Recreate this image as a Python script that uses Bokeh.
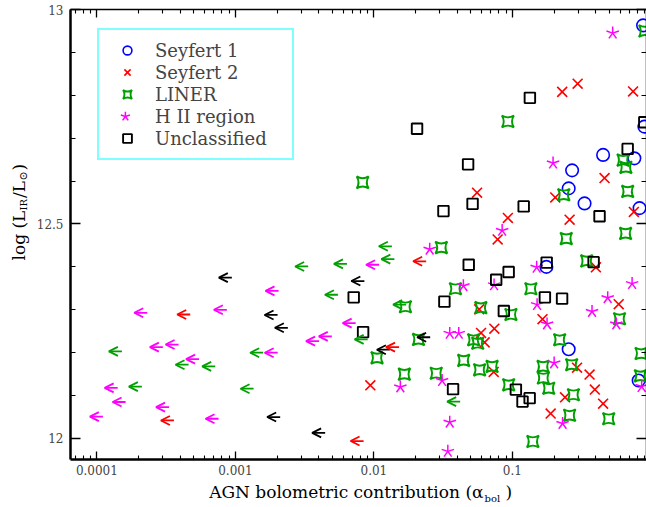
from bokeh.plotting import figure
from bokeh.layouts import column, row
from bokeh.models import (ColumnDataSource, Range1d, LogAxis, LinearAxis,
                          FixedTicker, PrintfTickFormatter, Legend, LegendItem, Arrow,
                          OpenHead, Label)
from bokeh.embed import file_html
from bokeh.resources import INLINE

# ---------------- data (alpha_bol, log L_IR) ----------------
SY1_ALPHA = [0.878, 0.897, 0.452, 0.760, 0.270, 0.255, 0.332, 0.829, 0.176, 0.255, 0.816]
SY1_LIR = [12.963, 12.727, 12.661, 12.653, 12.625, 12.583, 12.548, 12.537, 12.400, 12.208, 12.135]

SY2_ALPHA = [0.229, 0.296, 0.744, 0.0556, 0.463, 0.204, 0.754, 0.0928, 0.259, 0.0783, 0.401,
             0.0576, 0.165, 0.586, 0.0741, 0.0594, 0.0631, 0.0733, 0.293, 0.361, 0.394, 0.240,
             0.452, 0.189, 0.00943]
SY2_LIR = [12.808, 12.827, 12.809, 12.573, 12.607, 12.562, 12.528, 12.514, 12.510, 12.464, 12.399,
           12.301, 12.278, 12.313, 12.256, 12.246, 12.224, 12.155, 12.165, 12.149, 12.114, 12.096,
           12.081, 12.058, 12.124]

LINER_ALPHA = [0.905, 0.0928, 0.630, 0.660, 0.0083, 0.235, 0.680, 0.245, 0.657, 0.0307, 0.344,
               0.136, 0.0388, 0.0169, 0.0592, 0.0976, 0.594, 0.0210, 0.0525, 0.0562, 0.2195,
               0.850, 0.0445, 0.01054, 0.0166, 0.0282, 0.058, 0.0714, 0.094, 0.1666, 0.268,
               0.1674, 0.183, 0.276, 0.259, 0.496, 0.1406, 0.840]
LINER_LIR = [12.950, 12.739, 12.649, 12.632, 12.597, 12.568, 12.576, 12.466, 12.478, 12.445, 12.414,
             12.349, 12.349, 12.307, 12.305, 12.289, 12.279, 12.231, 12.230, 12.222, 12.230,
             12.198, 12.182, 12.188, 12.150, 12.152, 12.160, 12.168, 12.125, 12.168, 12.172,
             12.141, 12.117, 12.102, 12.054, 12.046, 11.993, 12.146]

HII_ALPHA = [0.530, 0.1967, 0.0844, 0.0253, 0.1498, 0.732, 0.0443, 0.0738, 0.1508, 0.488, 0.376,
             0.563, 0.178, 0.0353, 0.0410, 0.2003, 0.0311, 0.01553, 0.858, 0.0353, 0.2304, 0.0342]
HII_LIR = [12.945, 12.642, 12.485, 12.441, 12.399, 12.361, 12.356, 12.358, 12.312, 12.328, 12.296,
           12.267, 12.267, 12.245, 12.245, 12.176, 12.135, 12.120, 12.121, 12.038, 12.035, 11.970]

UNC_ALPHA = [0.0205, 0.1338, 0.897, 0.680, 0.0479, 0.0516, 0.0318, 0.1207, 0.426, 0.0484, 0.1769,
             0.386, 0.094, 0.0764, 0.0323, 0.1717, 0.2285, 0.0868, 0.00715, 0.00836, 0.0373,
             0.106, 0.1184, 0.1333]
UNC_LIR = [12.722, 12.794, 12.737, 12.675, 12.639, 12.547, 12.530, 12.541, 12.518, 12.405, 12.410,
           12.411, 12.388, 12.370, 12.319, 12.329, 12.326, 12.297, 12.329, 12.248, 12.115,
           12.114, 12.086, 12.094]

# upper limits on alpha_bol (leftward arrows)
UL_UNC_ALPHA = [0.000943, 0.002017, 0.002393, 0.00854, 0.002106, 0.004449, 0.01305, 0.0255]
UL_UNC_LIR = [12.375, 12.288, 12.258, 12.367, 12.050, 12.013, 12.207, 12.236]
UL_SY2_ALPHA = [0.000472, 0.00036, 0.02385, 0.0152, 0.00843]
UL_SY2_LIR = [12.289, 12.042, 12.413, 12.213, 11.994]
UL_HII_ALPHA = [0.000231, 0.000868, 0.0002996, 0.000389, 0.000547, 0.0001413, 0.0001612,
                0.000332, 0.0001105, 0.000756, 0.00205, 0.00202, 0.00402, 0.00497, 0.0109,
                0.00739]
UL_HII_LIR = [12.293, 12.300, 12.213, 12.219, 12.185, 12.118, 12.085, 12.073, 12.051, 12.046,
              12.344, 12.200, 12.227, 12.238, 12.405, 12.269]
UL_LINER_ALPHA = [0.0001516, 0.0002113, 0.000459, 0.000715, 0.001353, 0.001588, 0.003354,
                  0.00639, 0.01349, 0.01406, 0.0055, 0.0171, 0.00902, 0.042]
UL_LINER_LIR = [12.203, 12.121, 12.172, 12.168, 12.116, 12.200, 12.401, 12.407, 12.448, 12.418,
                12.335, 12.312, 12.231, 12.086]

XTICKS = [0.0001, 0.001, 0.01, 0.1]
XTICK_LABELS = ["0.0001", "0.001", "0.01", "0.1"]
YTICKS = [12, 12.5, 13]
YTICK_LABELS = ["12", "12.5", "13"]
LEGEND_LABELS = ["Seyfert 1", "Seyfert 2", "LINER", "H II region", "Unclassified"]

# ---------------- style ----------------
BLUE, RED, GREEN, MAGENTA, BLACK = "#0000ff", "#ff0000", "#00a000", "#ff00ff", "#000000"
FONT = "DejaVu Serif"
ARROW_DEX = 0.094          # arrow length in decades
STAR_ANGLES = [90, 18, -54, -126, 162]
LEGEND_STAR_POS = (1.607e-4, 12.7506)   # where the H II legend row's symbol sits

YLAB_W = 32
MAIN_H = 482

p = figure(width=646 - YLAB_W, height=MAIN_H, x_axis_type="log",
           x_range=Range1d(6.45e-5, 0.93), y_range=Range1d(11.951, 13.0),
           output_backend="svg", toolbar_location=None,
           min_border_left=70 - YLAB_W, min_border_right=0, min_border_top=9,
           min_border_bottom=MAIN_H - 459)
p.xgrid.visible = False
p.ygrid.visible = False
p.outline_line_color = None
p.background_fill_color = "white"
p.border_fill_color = "white"

x_minor = [m * 10.0 ** e for e in range(-5, 0) for m in range(2, 10)]
y_minor = [round(11.9 + 0.1 * i, 1) for i in range(12)]


def style_axis(ax, major_in, minor_in, lw, ticks=None):
    ax.major_tick_in = major_in
    ax.major_tick_out = 0
    ax.minor_tick_in = minor_in
    ax.minor_tick_out = 0
    ax.axis_line_width = lw
    ax.major_tick_line_width = 1.3
    ax.minor_tick_line_width = 1.1
    ax.major_label_text_font = FONT
    if ticks is None:
        ax.major_label_text_font_size = "12px"
    else:  # mirrored frame side: ticks only, no labels
        ax.major_label_text_font_size = "1px"
        ax.major_label_text_alpha = 0
        ax.major_label_standoff = 0
        ax.major_label_overrides = {t: "" for t in ticks}


xb = p.xaxis[0]
xb.ticker = FixedTicker(ticks=XTICKS, minor_ticks=x_minor)
xb.formatter = PrintfTickFormatter(format="%g")
xb.major_label_overrides = dict(zip(XTICKS, XTICK_LABELS))
style_axis(xb, 8, 4, 2.5)
xb.major_label_standoff = 5

yl = p.yaxis[0]
yl.ticker = FixedTicker(ticks=YTICKS, minor_ticks=y_minor)
yl.formatter = PrintfTickFormatter(format="%g")
yl.major_label_overrides = dict(zip(YTICKS, YTICK_LABELS))
style_axis(yl, 10, 5, 2.5)
yl.major_label_standoff = 7

xt = LogAxis(ticker=FixedTicker(ticks=XTICKS, minor_ticks=x_minor))
style_axis(xt, 8, 4, 1.5, ticks=XTICKS)
p.add_layout(xt, "above")
yr = LinearAxis(ticker=FixedTicker(ticks=YTICKS, minor_ticks=y_minor))
style_axis(yr, 10, 5, 1.5, ticks=YTICKS)
p.add_layout(yr, "right")

# ---------------- points ----------------
r_sy1 = p.scatter(SY1_ALPHA, SY1_LIR, marker="circle", size=12.5, fill_color=None,
                  line_color=BLUE, line_width=1.6)
r_sy2 = p.scatter(SY2_ALPHA, SY2_LIR, marker="x", size=14, line_color=RED, line_width=1.6)
r_lin = p.scatter(LINER_ALPHA, LINER_LIR, marker="square_pin", size=12, fill_color=None,
                  line_color=GREEN, line_width=1.9)
hii_src = ColumnDataSource(dict(x=HII_ALPHA, y=HII_LIR))
for a in STAR_ANGLES:
    p.ray(x="x", y="y", source=hii_src, length=6.5, length_units="screen", angle=a,
          angle_units="deg", line_color=MAGENTA, line_width=1.5)
r_unc = p.scatter(UNC_ALPHA, UNC_LIR, marker="square", size=10.5, fill_color=None,
                  line_color=BLACK, line_width=1.9)
# invisible stand-in so the H II entry has a legend row; its star is drawn below
r_hii_dummy = p.scatter(x=[HII_ALPHA[0]], y=[HII_LIR[0]], marker="circle", size=1,
                        fill_alpha=0, line_alpha=0)


def add_arrows(alphas, lirs, color):
    src = ColumnDataSource(dict(x0=alphas, y=lirs,
                                x1=[a / 10 ** ARROW_DEX for a in alphas]))
    p.add_layout(Arrow(end=OpenHead(size=9, line_color=color, line_width=1.8),
                       x_start="x0", y_start="y", x_end="x1", y_end="y", source=src,
                       line_color=color, line_width=1.8))


add_arrows(UL_UNC_ALPHA, UL_UNC_LIR, BLACK)
add_arrows(UL_SY2_ALPHA, UL_SY2_LIR, RED)
add_arrows(UL_HII_ALPHA, UL_HII_LIR, MAGENTA)
add_arrows(UL_LINER_ALPHA, UL_LINER_LIR, GREEN)

# ---------------- legend ----------------
renderers = [r_sy1, r_sy2, r_lin, r_hii_dummy, r_unc]
legend = Legend(items=[LegendItem(label=l, renderers=[r]) for l, r in zip(LEGEND_LABELS, renderers)],
                location=(27, 299), border_line_color="#00ffff", border_line_width=2,
                background_fill_alpha=0.0,
                padding=9, spacing=0, glyph_width=38, glyph_height=22, label_height=22,
                label_standoff=9, label_width=128, label_text_font=FONT,
                label_text_font_size="18px", margin=0)
p.add_layout(legend)

for a in STAR_ANGLES:
    p.ray(x=[LEGEND_STAR_POS[0]], y=[LEGEND_STAR_POS[1]], length=4.8, length_units="screen",
          angle=a, angle_units="deg", line_color=MAGENTA, line_width=1.5)


# ---------------- axis titles (in thin side figures) ----------------
def strip(w, h):
    f = figure(width=w, height=h, x_range=Range1d(0, w), y_range=Range1d(0, h),
               output_backend="svg", toolbar_location=None, min_border=0)
    f.axis.visible = False
    f.grid.visible = False
    f.outline_line_color = None
    f.background_fill_color = "white"
    f.border_fill_color = "white"
    return f


def lab(f, x, y, text, size, align="left", angle=0):
    f.add_layout(Label(x=x, y=y, x_units="screen", y_units="screen", text=text,
                       text_font=FONT, text_font_size=size, text_align=align,
                       text_baseline="middle", angle=angle, angle_units="deg",
                       text_color="black"))


ylab = strip(YLAB_W, MAIN_H)
lab(ylab, 18, 199, "log (L", "17px", angle=90)
lab(ylab, 23, 249, "IR", "10px", angle=90)
lab(ylab, 18, 261.5, "/L", "17px", angle=90)
lab(ylab, 23, 279, "⊙", "11px", angle=90)
lab(ylab, 18, 289, ")", "17px", angle=90)

xlab = strip(646, 507 - MAIN_H)
lab(xlab, 483, 16, "AGN bolometric contribution (α", "17px", align="right")
lab(xlab, 484, 9, "bol", "10px")
lab(xlab, 505, 16, ")", "17px")

layout = column(row(ylab, p, spacing=0), xlab, spacing=0)
open("out.html", "w").write(file_html(layout, INLINE))
